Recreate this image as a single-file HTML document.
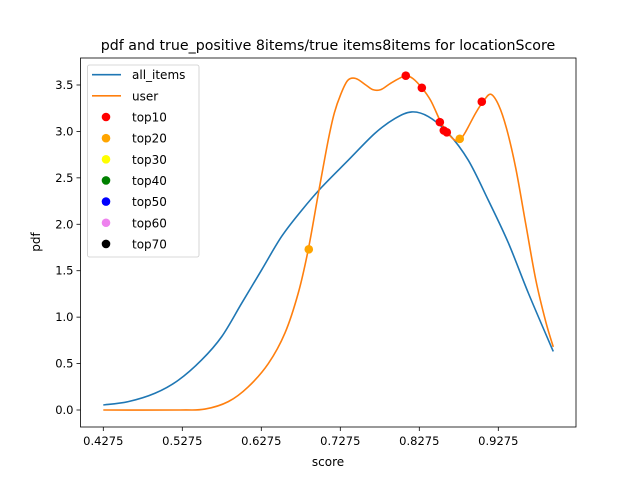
<!DOCTYPE html>
<html><head><meta charset="utf-8"><style>
body{margin:0;background:#fff}
svg{display:block;font-family:"DejaVu Sans","Liberation Sans",sans-serif}
</style></head><body>
<svg id="chart" width="640" height="480" viewBox="0 0 640 480"></svg>
<script>
const xTicks=[0.4275,0.5275,0.6275,0.7275,0.8275,0.9275];
const yTicks=[0.0,0.5,1.0,1.5,2.0,2.5,3.0,3.5];
const allX=[0.4275,0.4591,0.4929,0.5224,0.5521,0.5774,0.6027,0.6280,0.6533,0.6786,0.7040,0.7376,0.7714,0.7968,0.8179,0.8389,0.8642,0.8895,0.9148,0.9402,0.9655,0.9971];
const allY=[0.054,0.09,0.18,0.32,0.54,0.79,1.15,1.51,1.87,2.15,2.40,2.69,2.98,3.14,3.21,3.16,2.98,2.69,2.26,1.80,1.26,0.63];
const userX=[0.4275,0.5250,0.5562,0.5857,0.6110,0.6364,0.6575,0.6743,0.6870,0.6997,0.7123,0.7200,0.7281,0.7370,0.7471,0.7598,0.7686,0.7788,0.7914,0.8041,0.8104,0.8193,0.8307,0.8421,0.8547,0.8636,0.8737,0.8800,0.8864,0.8990,0.9091,0.9180,0.9281,0.9383,0.9497,0.9623,0.9750,0.9876,0.9971];
const userY=[0.00,0.00,0.01,0.09,0.25,0.50,0.83,1.26,1.73,2.33,2.91,3.20,3.40,3.55,3.57,3.50,3.45,3.45,3.52,3.58,3.60,3.57,3.47,3.33,3.10,2.98,2.90,2.92,3.00,3.20,3.33,3.40,3.28,3.02,2.60,2.00,1.40,0.95,0.68];
const top10X=[0.8104,0.8307,0.8535,0.8585,0.8623,0.9066];
const top10Y=[3.60,3.47,3.10,3.01,2.99,3.32];
const top20X=[0.6876,0.8787];
const top20Y=[1.73,2.92];
const legendLabels=["all_items","user","top10","top20","top30","top40","top50","top60","top70"];
const legendColors=["#1f77b4","#ff7f0e","red","orange","yellow","green","blue","violet","black"];

const L=80.5,R=576,T=58,B=427;
const sx=v=>103.3+(v-0.4275)*790;
const sy=v=>410-v*92.86;
const svg=document.getElementById('chart');
const NS='http://www.w3.org/2000/svg';
function mk(tag,attrs,parent){const e=document.createElementNS(NS,tag);for(const k in attrs)e.setAttribute(k,attrs[k]);(parent||svg).appendChild(e);return e;}
function txt(s,attrs,parent){const e=mk('text',attrs,parent);e.textContent=s;return e;}

const t=txt('pdf and true_positive 8items/true items8items for locationScore',{x:328,y:50,'text-anchor':'middle','font-size':'14.2'});



const gx=mk('g',{});


xTicks.forEach(v=>{const x=sx(v);mk('line',{x1:x,x2:x,y1:B,y2:B+4,stroke:'#000','stroke-width':0.8},gx);
 const l=txt(v.toFixed(4),{x:x,y:B+18,'text-anchor':'middle','font-size':'11.5'},gx);
 
 });
const xl=txt('score',{x:328,y:466,'text-anchor':'middle','font-size':'12'});



const gy=mk('g',{});


yTicks.forEach(v=>{const y=sy(v);mk('line',{x1:L-4,x2:L,y1:y,y2:y,stroke:'#000','stroke-width':0.8},gy);
 const l=txt(v.toFixed(1),{x:L-7,y:y+4,'text-anchor':'end','font-size':'11.5'},gy);
 
 });
const yl=txt('pdf',{x:40,y:242,'text-anchor':'middle','font-size':'12',transform:'rotate(-90 40 242)'});



function smoothPath(xs,ys){
 const P=xs.map((x,i)=>[sx(x),sy(ys[i])]);
 let d='M'+P[0][0]+','+P[0][1];
 for(let i=0;i<P.length-1;i++){
  const p0=P[Math.max(0,i-1)],p1=P[i],p2=P[i+1],p3=P[Math.min(P.length-1,i+2)];
  const c1=[p1[0]+(p2[0]-p0[0])/6,p1[1]+(p2[1]-p0[1])/6];
  const c2=[p2[0]-(p3[0]-p1[0])/6,p2[1]-(p3[1]-p1[1])/6];
  d+=' C'+c1[0]+','+c1[1]+' '+c2[0]+','+c2[1]+' '+p2[0]+','+p2[1];
 }
 return d;
}
function line(xs,ys,color,name){const p=mk('path',{d:smoothPath(xs,ys),fill:'none',stroke:color,'stroke-width':1.6,'stroke-linejoin':'round'});
 
 }
line(allX,allY,'#1f77b4','all-items-line');
line(userX,userY,'#ff7f0e','user-line');
function pts(xs,ys,color,name){xs.forEach((x,i)=>{const c=mk('circle',{cx:sx(x),cy:sy(ys[i]),r:4.3,fill:color});
 
 });}
pts(top10X,top10Y,'red','top10-point');
pts(top20X,top20Y,'orange','top20-point');

const frame=mk('rect',{x:L,y:T,width:R-L,height:B-T,fill:'none',stroke:'#000','stroke-width':0.8});



const lg=mk('g',{});


mk('rect',{x:87.5,y:65,width:111.5,height:192,rx:2,fill:'#fff','fill-opacity':0.8,stroke:'#ccc','stroke-width':0.8},lg);
legendLabels.forEach((lab,i)=>{const y=74.7+i*21.15;
 const g=mk('g',{},lg);
 
 
 if(i<2)mk('line',{x1:92,x2:121,y1:y,y2:y,stroke:legendColors[i],'stroke-width':1.6},g);
 else mk('circle',{cx:106,cy:y,r:4.3,fill:legendColors[i]},g);
 txt(lab,{x:132,y:y+4.5,'font-size':'12'},g);});
</script>
</body></html>
